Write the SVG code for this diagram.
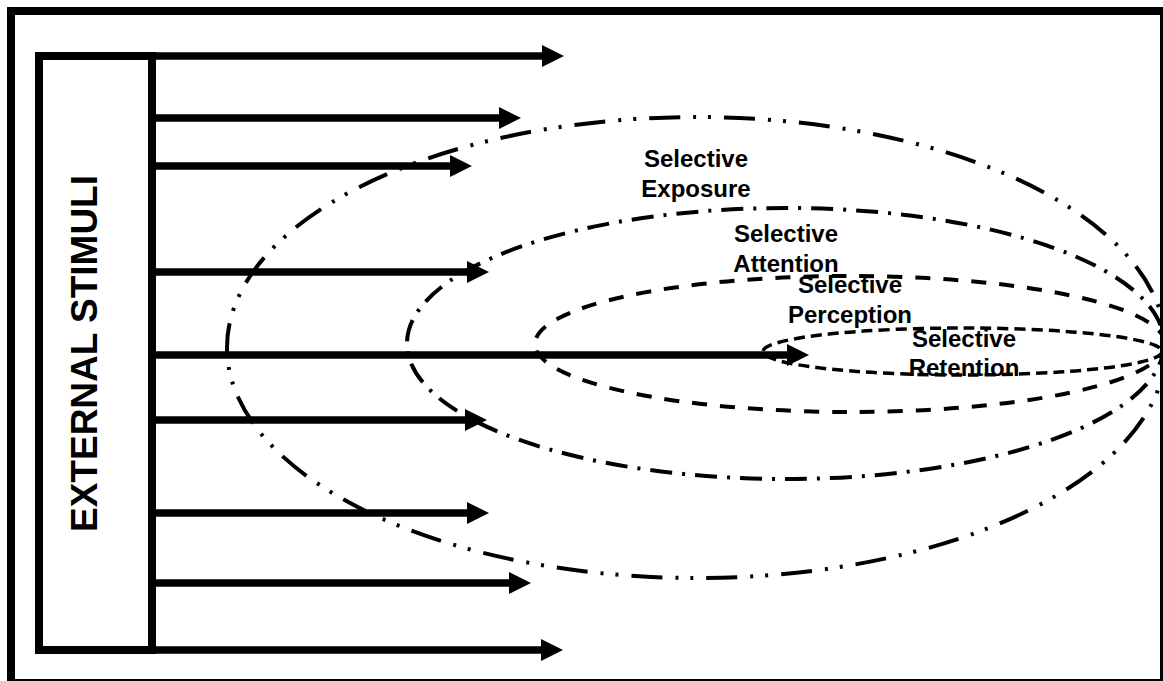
<svg xmlns="http://www.w3.org/2000/svg" width="1163" height="681" viewBox="0 0 1163 681">
  <defs>
    <marker id="head" markerUnits="userSpaceOnUse" markerWidth="22" markerHeight="22" refX="1" refY="11" orient="auto" overflow="visible">
      <path d="M0,0 L22,11 L0,22 Z" fill="#000"/>
    </marker>
    <style>
      .frame { fill: none; stroke: #000; stroke-width: 8; }
      .box { fill: #fff; stroke: #000; stroke-width: 8; }
      .arrow { stroke: #000; stroke-width: 7.5; fill: none; marker-end: url(#head); }
      .ring { fill: none; stroke: #000; stroke-width: 4; }
      .exposure { stroke-dasharray: 31 13 3 12 3 13; }
      .attention { stroke-dasharray: 22 10 3 10; }
      .perception { stroke-dasharray: 15 13; }
      .retention { stroke-width: 3.5; stroke-dasharray: 11 6; }
      .title { font-family: "Liberation Sans", Arial, sans-serif; font-weight: bold; font-size: 37px; fill: #000; }
      .label { font-family: "Liberation Sans", Arial, sans-serif; font-weight: bold; font-size: 24px; fill: #000; text-anchor: middle; }
    </style>
  </defs>

  <rect width="1163" height="681" fill="#fff"/>

  <!-- nested selection stages -->
  <g id="selective-exposure">
    <ellipse class="ring exposure" cx="696.5" cy="347.5" rx="469.5" ry="230.5"/>
  </g>
  <g id="selective-attention">
    <ellipse class="ring attention" cx="785.5" cy="343.5" rx="378.5" ry="135.5"/>
  </g>
  <g id="selective-perception">
    <ellipse class="ring perception" cx="850" cy="344" rx="315" ry="68"/>
  </g>
  <g id="selective-retention">
    <ellipse class="ring retention" cx="962.5" cy="351.5" rx="199.5" ry="23.5"/>
  </g>

  <!-- stimulus source -->
  <g id="external-stimuli">
    <rect class="box" x="39" y="56" width="113" height="594"/>
    <text class="title" transform="translate(97,353.5) rotate(-90)" text-anchor="middle">EXTERNAL STIMULI</text>
  </g>

  <!-- stimuli arrows -->
  <g id="connectors">
    <line class="arrow" x1="35" y1="56" x2="543" y2="56"/>
    <line class="arrow" x1="152" y1="118" x2="500" y2="118"/>
    <line class="arrow" x1="152" y1="166" x2="451" y2="166"/>
    <line class="arrow" x1="152" y1="272" x2="468" y2="272"/>
    <line class="arrow" x1="152" y1="355" x2="788" y2="355"/>
    <line class="arrow" x1="152" y1="420" x2="466" y2="420"/>
    <line class="arrow" x1="152" y1="513" x2="468" y2="513"/>
    <line class="arrow" x1="152" y1="583" x2="510" y2="583"/>
    <line class="arrow" x1="35" y1="650" x2="542" y2="650"/>
  </g>

  <!-- stage labels -->
  <g id="labels">
    <text class="label" x="696" y="167">Selective</text>
    <text class="label" x="696" y="197">Exposure</text>
    <text class="label" x="786" y="242">Selective</text>
    <text class="label" x="786" y="272">Attention</text>
    <text class="label" x="850" y="293">Selective</text>
    <text class="label" x="850" y="323">Perception</text>
    <text class="label" x="964" y="347">Selective</text>
    <text class="label" x="964" y="376">Retention</text>
  </g>

  <!-- outer frame -->
  <rect class="frame" x="11" y="11" width="1153" height="672"/>
</svg>
